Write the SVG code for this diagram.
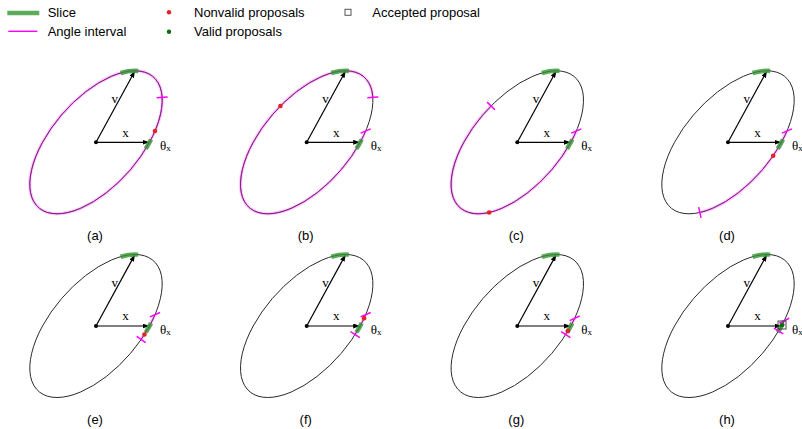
<svg xmlns="http://www.w3.org/2000/svg" width="802" height="429" viewBox="0 0 802 429">
<style>
.ell{fill:none;stroke:#2a2a2a;stroke-width:1;vector-effect:non-scaling-stroke}
.ang{fill:none;stroke:#ff00ff;stroke-opacity:0.22;stroke-width:3.2;vector-effect:non-scaling-stroke}
.angc{fill:none;stroke:#ff00ff;stroke-opacity:0.45;stroke-width:1;vector-effect:non-scaling-stroke}
.slice{fill:none;stroke:#329632;stroke-opacity:0.8;stroke-width:4.5;vector-effect:non-scaling-stroke}
.tick{stroke:#ff00ff;stroke-width:1.5}
.arr{fill:none;stroke:#000;stroke-width:1.2;marker-end:url(#ah)}
.bad{fill:#e32222}
.good{fill:#0a6e0a}
.lbl{font-family:"Liberation Serif",serif;font-size:13px;fill:#000}
.cap{font-family:"Liberation Sans",sans-serif;font-size:13px;text-anchor:middle;fill:#000}
.leg{font-family:"Liberation Sans",sans-serif;font-size:13px;fill:#000}
</style>
<defs>
<marker id="ah" markerWidth="7" markerHeight="5" refX="4" refY="2.5" orient="auto" markerUnits="userSpaceOnUse"><path d="M0,0 L7,2.5 L0,5 z" fill="#000"/></marker>
</defs>

<g id="legend">
<line x1="7.3" y1="13" x2="39.3" y2="13" stroke="#329632" stroke-opacity="0.8" stroke-width="4.5"/>
<text class="leg" x="47.7" y="16.7">Slice</text>
<line x1="8.3" y1="31.3" x2="37.3" y2="31.3" stroke="#ff00ff" stroke-width="1.4"/>
<text class="leg" x="47.7" y="35.7">Angle interval</text>
<circle class="bad" cx="169" cy="12.3" r="2.2"/>
<text class="leg" x="194" y="16.7">Nonvalid proposals</text>
<circle class="good" cx="169" cy="31.7" r="2.2"/>
<text class="leg" x="194" y="35.7">Valid proposals</text>
<rect x="345" y="9.3" width="6" height="6" fill="#fff" stroke="#555" stroke-width="1"/>
<text class="leg" x="372.3" y="16.7">Accepted proposal</text>
</g>

<g id="panel-a" transform="translate(96,142.3)">
<g transform="matrix(53.5 0 39 -71.5 0 0)">
<circle class="ang" r="1"/>
<circle class="ell" r="1"/>
<circle class="angc" r="1"/>
</g>
<g id="conn-a"><path class="arr" d="M0 0 L50.5 0"/><path class="arr" d="M0 0 L37.56 -68.87"/></g>
<g transform="matrix(53.5 0 39 -71.5 0 0)">
<path class="slice" d="M0.9960 -0.0899 A1 1 0 0 1 0.9992 0.0400"/>
<path class="slice" d="M0.0608 0.9982 A1 1 0 0 1 -0.2470 0.9690"/>
</g>
<circle r="2" fill="#000"/>
<line class="tick" x1="60.63" y1="-44.63" x2="71.61" y2="-45.29"/>
<circle class="bad" cx="59.00" cy="-11.32" r="2.3"/>
<text class="lbl" x="29.5" y="-5.8" text-anchor="middle">x</text>
<text class="lbl" x="18.7" y="-39.5" text-anchor="middle">v</text>
<text class="lbl" x="64" y="7.5">θ<tspan font-size="9" dy="1.5">x</tspan></text>
<text class="cap" x="-1" y="97.5">(a)</text>
</g>

<g id="panel-b" transform="translate(306.7,142.3)">
<g transform="matrix(53.5 0 39 -71.5 0 0)">
<path class="ang" d="M0.7776 0.6288 A1 1 0 1 1 0.9874 0.1583"/>
<circle class="ell" r="1"/>
<path class="angc" d="M0.7776 0.6288 A1 1 0 1 1 0.9874 0.1583"/>
</g>
<g id="conn-b"><path class="arr" d="M0 0 L50.5 0"/><path class="arr" d="M0 0 L37.56 -68.87"/></g>
<g transform="matrix(53.5 0 39 -71.5 0 0)">
<path class="slice" d="M0.9960 -0.0899 A1 1 0 0 1 0.9992 0.0400"/>
<path class="slice" d="M0.0608 0.9982 A1 1 0 0 1 -0.2470 0.9690"/>
</g>
<circle r="2" fill="#000"/>
<line class="tick" x1="60.63" y1="-44.63" x2="71.61" y2="-45.29"/>
<line class="tick" x1="53.94" y1="-9.17" x2="64.06" y2="-13.47"/>
<circle class="bad" cx="-26.27" cy="-36.32" r="2.3"/>
<text class="lbl" x="29.5" y="-5.8" text-anchor="middle">x</text>
<text class="lbl" x="18.7" y="-39.5" text-anchor="middle">v</text>
<text class="lbl" x="64" y="7.5">θ<tspan font-size="9" dy="1.5">x</tspan></text>
<text class="cap" x="-1" y="97.5">(b)</text>
</g>

<g id="panel-c" transform="translate(517.3,142.3)">
<g transform="matrix(53.5 0 39 -71.5 0 0)">
<path class="ang" d="M-0.8614 0.5080 A1 1 0 1 1 0.9874 0.1583"/>
<circle class="ell" r="1"/>
<path class="angc" d="M-0.8614 0.5080 A1 1 0 1 1 0.9874 0.1583"/>
</g>
<g id="conn-c"><path class="arr" d="M0 0 L50.5 0"/><path class="arr" d="M0 0 L37.56 -68.87"/></g>
<g transform="matrix(53.5 0 39 -71.5 0 0)">
<path class="slice" d="M0.9960 -0.0899 A1 1 0 0 1 0.9992 0.0400"/>
<path class="slice" d="M0.0608 0.9982 A1 1 0 0 1 -0.2470 0.9690"/>
</g>
<circle r="2" fill="#000"/>
<line class="tick" x1="53.94" y1="-9.17" x2="64.06" y2="-13.47"/>
<line class="tick" x1="-30.18" y1="-40.18" x2="-22.36" y2="-32.46"/>
<circle class="bad" cx="-28.15" cy="70.21" r="2.3"/>
<text class="lbl" x="29.5" y="-5.8" text-anchor="middle">x</text>
<text class="lbl" x="18.7" y="-39.5" text-anchor="middle">v</text>
<text class="lbl" x="64" y="7.5">θ<tspan font-size="9" dy="1.5">x</tspan></text>
<text class="cap" x="-1" y="97.5">(c)</text>
</g>

<g id="panel-d" transform="translate(728,142.3)">
<g transform="matrix(53.5 0 39 -71.5 0 0)">
<path class="ang" d="M0.1896 -0.9819 A1 1 0 0 1 0.9874 0.1583"/>
<circle class="ell" r="1"/>
<path class="angc" d="M0.1896 -0.9819 A1 1 0 0 1 0.9874 0.1583"/>
</g>
<g id="conn-d"><path class="arr" d="M0 0 L50.5 0"/><path class="arr" d="M0 0 L37.56 -68.87"/></g>
<g transform="matrix(53.5 0 39 -71.5 0 0)">
<path class="slice" d="M0.9960 -0.0899 A1 1 0 0 1 0.9992 0.0400"/>
<path class="slice" d="M0.0608 0.9982 A1 1 0 0 1 -0.2470 0.9690"/>
</g>
<circle r="2" fill="#000"/>
<line class="tick" x1="53.94" y1="-9.17" x2="64.06" y2="-13.47"/>
<line class="tick" x1="-29.36" y1="64.85" x2="-26.94" y2="75.57"/>
<circle class="bad" cx="45.17" cy="13.51" r="2.3"/>
<text class="lbl" x="29.5" y="-5.8" text-anchor="middle">x</text>
<text class="lbl" x="18.7" y="-39.5" text-anchor="middle">v</text>
<text class="lbl" x="64" y="7.5">θ<tspan font-size="9" dy="1.5">x</tspan></text>
<text class="cap" x="-1" y="97.5">(d)</text>
</g>

<g id="panel-e" transform="translate(96,326)">
<g transform="matrix(53.5 0 39 -71.5 0 0)">
<path class="ang" d="M0.9820 -0.1889 A1 1 0 0 1 0.9874 0.1583"/>
<circle class="ell" r="1"/>
<path class="angc" d="M0.9820 -0.1889 A1 1 0 0 1 0.9874 0.1583"/>
</g>
<g id="conn-e"><path class="arr" d="M0 0 L50.5 0"/><path class="arr" d="M0 0 L37.56 -68.87"/></g>
<g transform="matrix(53.5 0 39 -71.5 0 0)">
<path class="slice" d="M0.9960 -0.0899 A1 1 0 0 1 0.9992 0.0400"/>
<path class="slice" d="M0.0608 0.9982 A1 1 0 0 1 -0.2470 0.9690"/>
</g>
<circle r="2" fill="#000"/>
<line class="tick" x1="53.94" y1="-9.17" x2="64.06" y2="-13.47"/>
<line class="tick" x1="40.64" y1="10.39" x2="49.70" y2="16.63"/>
<circle class="bad" cx="48.45" cy="8.56" r="2.3"/>
<text class="lbl" x="29.5" y="-5.8" text-anchor="middle">x</text>
<text class="lbl" x="18.7" y="-39.5" text-anchor="middle">v</text>
<text class="lbl" x="64" y="7.5">θ<tspan font-size="9" dy="1.5">x</tspan></text>
<text class="cap" x="-1" y="97.5">(e)</text>
</g>

<g id="panel-f" transform="translate(306.7,326)">
<g transform="matrix(53.5 0 39 -71.5 0 0)">
<path class="ang" d="M0.9928 -0.1197 A1 1 0 0 1 0.9874 0.1583"/>
<circle class="ell" r="1"/>
<path class="angc" d="M0.9928 -0.1197 A1 1 0 0 1 0.9874 0.1583"/>
</g>
<g id="conn-f"><path class="arr" d="M0 0 L50.5 0"/><path class="arr" d="M0 0 L37.56 -68.87"/></g>
<g transform="matrix(53.5 0 39 -71.5 0 0)">
<path class="slice" d="M0.9960 -0.0899 A1 1 0 0 1 0.9992 0.0400"/>
<path class="slice" d="M0.0608 0.9982 A1 1 0 0 1 -0.2470 0.9690"/>
</g>
<circle r="2" fill="#000"/>
<line class="tick" x1="53.94" y1="-9.17" x2="64.06" y2="-13.47"/>
<line class="tick" x1="43.81" y1="5.61" x2="53.09" y2="11.51"/>
<circle class="bad" cx="57.39" cy="-7.71" r="2.3"/>
<text class="lbl" x="29.5" y="-5.8" text-anchor="middle">x</text>
<text class="lbl" x="18.7" y="-39.5" text-anchor="middle">v</text>
<text class="lbl" x="64" y="7.5">θ<tspan font-size="9" dy="1.5">x</tspan></text>
<text class="cap" x="-1" y="97.5">(f)</text>
</g>

<g id="panel-g" transform="translate(517.3,326)">
<g transform="matrix(53.5 0 39 -71.5 0 0)">
<path class="ang" d="M0.9928 -0.1197 A1 1 0 0 1 0.9942 0.1078"/>
<circle class="ell" r="1"/>
<path class="angc" d="M0.9928 -0.1197 A1 1 0 0 1 0.9942 0.1078"/>
</g>
<g id="conn-g"><path class="arr" d="M0 0 L50.5 0"/><path class="arr" d="M0 0 L37.56 -68.87"/></g>
<g transform="matrix(53.5 0 39 -71.5 0 0)">
<path class="slice" d="M0.9960 -0.0899 A1 1 0 0 1 0.9992 0.0400"/>
<path class="slice" d="M0.0608 0.9982 A1 1 0 0 1 -0.2470 0.9690"/>
</g>
<circle r="2" fill="#000"/>
<line class="tick" x1="52.40" y1="-5.39" x2="62.38" y2="-10.03"/>
<line class="tick" x1="43.81" y1="5.61" x2="53.09" y2="11.51"/>
<circle class="bad" cx="50.64" cy="5.00" r="2.3"/>
<text class="lbl" x="29.5" y="-5.8" text-anchor="middle">x</text>
<text class="lbl" x="18.7" y="-39.5" text-anchor="middle">v</text>
<text class="lbl" x="64" y="7.5">θ<tspan font-size="9" dy="1.5">x</tspan></text>
<text class="cap" x="-1" y="97.5">(g)</text>
</g>

<g id="panel-h" transform="translate(728,326)">
<g transform="matrix(53.5 0 39 -71.5 0 0)">
<path class="ang" d="M0.9976 -0.0699 A1 1 0 0 1 0.9972 0.0749"/>
<circle class="ell" r="1"/>
<path class="angc" d="M0.9976 -0.0699 A1 1 0 0 1 0.9972 0.0749"/>
</g>
<g id="conn-h"><path class="arr" d="M0 0 L50.5 0"/><path class="arr" d="M0 0 L37.56 -68.87"/></g>
<g transform="matrix(53.5 0 39 -71.5 0 0)">
<path class="slice" d="M0.9960 -0.0899 A1 1 0 0 1 0.9992 0.0400"/>
<path class="slice" d="M0.0608 0.9982 A1 1 0 0 1 -0.2470 0.9690"/>
</g>
<circle r="2" fill="#000"/>
<line class="tick" x1="51.33" y1="-2.94" x2="61.21" y2="-7.78"/>
<line class="tick" x1="45.92" y1="2.18" x2="55.36" y2="7.82"/>
<circle class="good" cx="54.04" cy="-1.0" r="2.3"/>
<rect x="50" y="-5" width="8" height="8" fill="none" stroke="#333" stroke-width="0.9"/>
<text class="lbl" x="29.5" y="-5.8" text-anchor="middle">x</text>
<text class="lbl" x="18.7" y="-39.5" text-anchor="middle">v</text>
<text class="lbl" x="64" y="7.5">θ<tspan font-size="9" dy="1.5">x</tspan></text>
<text class="cap" x="-1" y="97.5">(h)</text>
</g>
</svg>
